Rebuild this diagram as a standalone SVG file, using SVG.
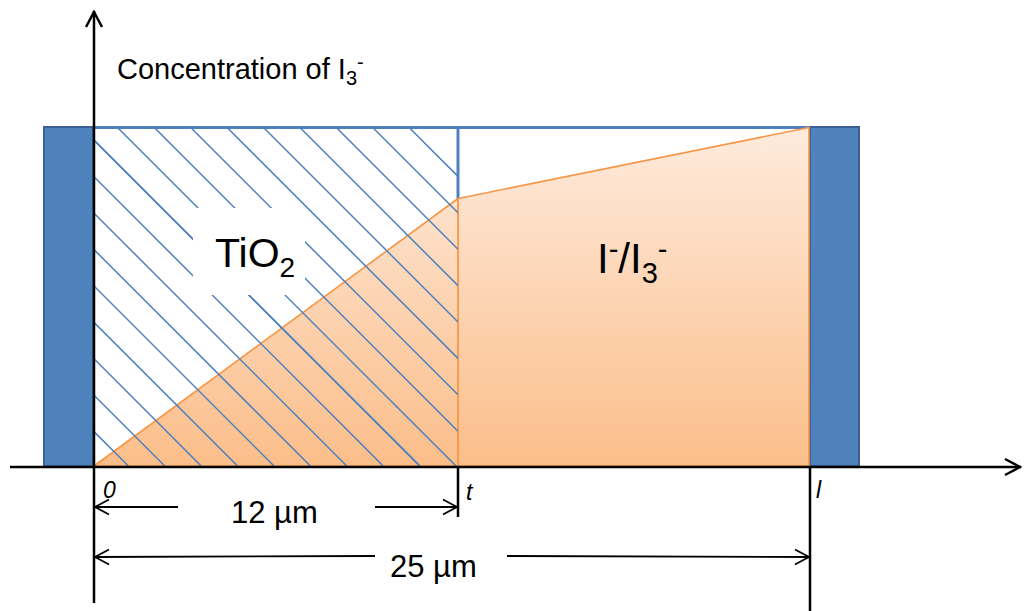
<svg xmlns="http://www.w3.org/2000/svg" width="1025" height="611" viewBox="0 0 1025 611">
<style>
.bar{fill:#4F81BD;stroke:#3A6192;stroke-width:2}
.blue{stroke:#4F81BD;fill:none}
.orange{fill:url(#og);stroke:#F79646;stroke-width:1.6;stroke-linejoin:round}
.hatch line{stroke:#4F81BD;stroke-width:1.5}
.ax{stroke:#000;fill:none;stroke-width:2.5}
.dim{stroke:#000;fill:none;stroke-width:1.8}
.t{font-family:"Liberation Sans",Arial,sans-serif;fill:#000}
.it{font-family:"Liberation Sans",Arial,sans-serif;font-style:italic;fill:#000;font-size:23px}
</style>
<defs>
<linearGradient id="og" gradientUnits="userSpaceOnUse" x1="0" y1="127" x2="0" y2="466">
<stop offset="0" stop-color="#FEEBDD"/>
<stop offset="1" stop-color="#FBBE8A"/>
</linearGradient>
<clipPath id="tio2clip"><rect x="94" y="127" width="364" height="339"/></clipPath>
<marker id="ah" markerUnits="userSpaceOnUse" viewBox="0 0 16 18" refX="15" refY="9" markerWidth="16" markerHeight="18" orient="auto-start-reverse">
<path d="M1,1.5 L15,9 L1,16.5" fill="none" stroke="#000" stroke-width="1.8"/>
</marker>
<marker id="axh" markerUnits="userSpaceOnUse" viewBox="0 0 18 20" refX="17" refY="10" markerWidth="18" markerHeight="20" orient="auto">
<path d="M1,2 L16,10 L1,18" fill="none" stroke="#000" stroke-width="2.5"/>
</marker>
</defs>
<rect width="1025" height="611" fill="#fff"/>

<g id="electrode-left"><rect class="bar" x="44" y="127" width="49" height="339"/></g>
<g id="electrode-right"><rect class="bar" x="810" y="127" width="49" height="339"/></g>

<g id="cell-frame">
<line class="blue" x1="93" y1="127.5" x2="810" y2="127.5" stroke-width="3"/>
<line class="blue" x1="458" y1="127" x2="458" y2="466" stroke-width="3"/>
</g>

<g id="electrolyte">
<polygon class="orange" points="458,198.5 809,127.5 809,466 458,466"/>
</g>

<g id="tio2">
<polygon class="orange" points="94,466 458,198.5 458,466"/>
<g class="hatch" clip-path="url(#tio2clip)">
<line x1="94" y1="431.6" x2="128.4" y2="466"/>
<line x1="94" y1="395.2" x2="164.8" y2="466"/>
<line x1="94" y1="358.8" x2="201.2" y2="466"/>
<line x1="94" y1="322.4" x2="237.6" y2="466"/>
<line x1="94" y1="286" x2="274" y2="466"/>
<line x1="94" y1="249.6" x2="310.4" y2="466"/>
<line x1="94" y1="213.2" x2="346.8" y2="466"/>
<line x1="94" y1="176.8" x2="383.2" y2="466"/>
<line x1="94" y1="140.4" x2="419.6" y2="466"/>
<line x1="81" y1="127" x2="458" y2="504"/>
<line x1="117" y1="127" x2="458" y2="468"/>
<line x1="153.8" y1="127" x2="458" y2="431.2"/>
<line x1="190.2" y1="127" x2="458" y2="394.8"/>
<line x1="226.6" y1="127" x2="458" y2="358.4"/>
<line x1="263" y1="127" x2="458" y2="322"/>
<line x1="299.4" y1="127" x2="458" y2="285.6"/>
<line x1="335.8" y1="127" x2="458" y2="249.2"/>
<line x1="372.2" y1="127" x2="458" y2="212.8"/>
<line x1="408.6" y1="127" x2="458" y2="176.4"/>
</g>
<rect x="193" y="208" width="112" height="87" fill="#fff"/>
<text class="t" x="215" y="267" font-size="41">TiO<tspan font-size="28" dy="10">2</tspan></text>
</g>

<g id="electrolyte-label">
<text class="t" x="597" y="273" font-size="42">I<tspan font-size="29" dy="-14">-</tspan><tspan dy="14">/I</tspan><tspan font-size="29" dy="10">3</tspan><tspan font-size="29" dy="-24">-</tspan></text>
</g>

<g id="axes">
<line class="ax" x1="94" y1="603" x2="94" y2="11" marker-end="url(#axh)"/>
<line class="ax" x1="10" y1="467" x2="1021" y2="467" marker-end="url(#axh)"/>
<line class="ax" x1="458" y1="467" x2="458" y2="517"/>
<line class="ax" x1="810" y1="467" x2="810" y2="611"/>
<text class="t" x="117" y="79" font-size="29">Concentration of I<tspan font-size="20" dy="6">3</tspan><tspan font-size="20" dy="-16">-</tspan></text>
<text class="it" x="103" y="498">0</text>
<text class="it" x="466" y="500">t</text>
<text class="it" x="816" y="498">l</text>
</g>

<g id="connectors">
<line class="dim" x1="95" y1="507" x2="178" y2="507" marker-start="url(#ah)"/>
<line class="dim" x1="375" y1="507" x2="457" y2="507" marker-end="url(#ah)"/>
<line class="dim" x1="95" y1="557" x2="375" y2="556" marker-start="url(#ah)"/>
<line class="dim" x1="507" y1="556" x2="809" y2="557" marker-end="url(#ah)"/>
</g>

<g id="dimension-labels">
<text class="t" x="231" y="523" font-size="31">12 µm</text>
<text class="t" x="390" y="577" font-size="31">25 µm</text>
</g>
</svg>
